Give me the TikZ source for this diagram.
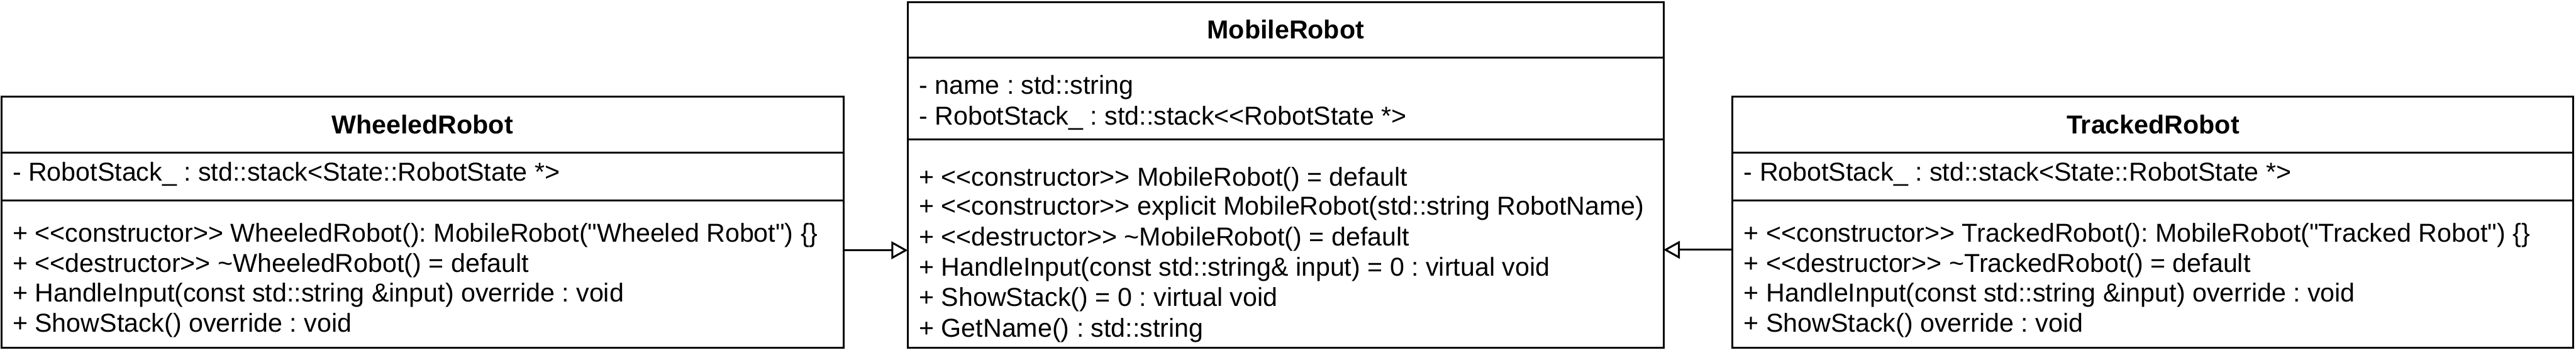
\documentclass[tikz,border=0pt]{standalone}
\usepackage{fontspec}
\setmainfont{Liberation Sans}[Ligatures=TeXOff]
\usetikzlibrary{arrows.meta}
\frenchspacing

\begin{document}
\begin{tikzpicture}[line width=1.25pt,
  classbox/.style={draw, inner sep=0pt, outer sep=0pt, anchor=north west},
  member/.style={anchor=base west, inner sep=0pt, font=\fontsize{17.07}{20}\selectfont},
  classname/.style={anchor=base, inner sep=0pt, font=\fontsize{17.07}{20}\selectfont\bfseries},
  inherit/.style={-{Triangle[open, length=0.38cm, width=0.41cm]}}]
\fill[white] (0,0) rectangle (59.65,8.2);
\useasboundingbox (0,0) rectangle (59.65,8.2);

% WheeledRobot
\node[classbox, minimum width=19.5cm, minimum height=5.81cm] (wheeled) at (0.03,5.96) {};
\draw (wheeled.west |- 0,4.67) -- (wheeled.east |- 0,4.67);
\draw (wheeled.west |- 0,3.56) -- (wheeled.east |- 0,3.56);
\node[classname] (wheeledname) at (wheeled.north |- 0,5.11) {WheeledRobot};
\node[member] (wheeledattr) at (0.27,4.01) {- RobotStack\_ : std::stack<State::RobotState *>};
\node[member] (wheeledctor) at (0.27,2.60) {+ <<constructor>> WheeledRobot(): MobileRobot("Wheeled Robot") \{\}};
\node[member] (wheeleddtor) at (0.27,1.905) {+ <<destructor>> \textasciitilde WheeledRobot() = default};
\node[member] (wheeledinput) at (0.27,1.21) {+ HandleInput(const std::string \&input) override : void};
\node[member] (wheeledshow) at (0.27,0.515) {+ ShowStack() override : void};

% MobileRobot
\node[classbox, minimum width=17.5cm, minimum height=8.0cm] (mobile) at (21.02,8.15) {};
\draw (mobile.west |- 0,6.87) -- (mobile.east |- 0,6.87);
\draw (mobile.west |- 0,4.97) -- (mobile.east |- 0,4.97);
\node[classname] (mobilename) at (mobile.north |- 0,7.305) {MobileRobot};
\node[member] (mobileattra) at (21.26,6.02) {- name : std::string};
\node[member] (mobileattrb) at (21.26,5.31) {- RobotStack\_ : std::stack<<RobotState *>};
\node[member] (mobilectora) at (21.26,3.90) {+ <<constructor>> MobileRobot() = default};
\node[member] (mobilectorb) at (21.26,3.22) {+ <<constructor>> explicit MobileRobot(std::string RobotName)};
\node[member] (mobiledtor) at (21.26,2.52) {+ <<destructor>> \textasciitilde MobileRobot() = default};
\node[member] (mobileinput) at (21.26,1.82) {+ HandleInput(const std::string\& input) = 0 : virtual void};
\node[member] (mobileshow) at (21.26,1.11) {+ ShowStack() = 0 : virtual void};
\node[member] (mobileget) at (21.26,0.40) {+ GetName() : std::string};

% TrackedRobot
\node[classbox, minimum width=19.47cm, minimum height=5.81cm] (tracked) at (40.12,5.96) {};
\draw (tracked.west |- 0,4.67) -- (tracked.east |- 0,4.67);
\draw (tracked.west |- 0,3.56) -- (tracked.east |- 0,3.56);
\node[classname] (trackedname) at (tracked.north |- 0,5.11) {TrackedRobot};
\node[member] (trackedattr) at (40.36,4.01) {- RobotStack\_ : std::stack<State::RobotState *>};
\node[member] (trackedctor) at (40.36,2.60) {+ <<constructor>> TrackedRobot(): MobileRobot("Tracked Robot") \{\}};
\node[member] (trackeddtor) at (40.36,1.905) {+ <<destructor>> \textasciitilde TrackedRobot() = default};
\node[member] (trackedinput) at (40.36,1.21) {+ HandleInput(const std::string \&input) override : void};
\node[member] (trackedshow) at (40.36,0.515) {+ ShowStack() override : void};

% inheritance
\draw[inherit] (wheeled.east |- 0,2.41) -- (mobile.west |- 0,2.41);
\draw[inherit] (tracked.west |- 0,2.42) -- (mobile.east |- 0,2.42);
\end{tikzpicture}
\end{document}
